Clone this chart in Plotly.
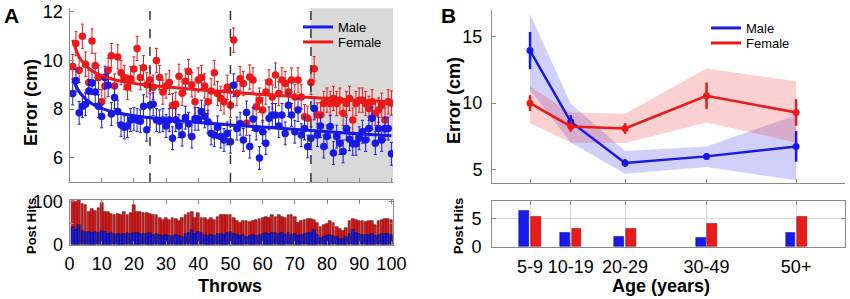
import plotly.graph_objects as go

W, H = 850, 299
def fx(px): return px / W
def fy(px): return 1 - px / H

FONT = "Arial, Liberation Sans, sans-serif"
RED = "rgb(235,25,25)"
BLUE = "rgb(25,25,230)"
AXC = "#8a8a8a"

# ---------------- Panel A data ----------------
throws = list(range(1, 101))
female_error = [9.75, 10.7, 9.6, 11.0, 9.85, 9.1, 10.8, 9.8, 9.3, 8.3,
                8.95, 9.6, 10.2, 8.95, 10.15, 9.5, 9.3, 8.9, 9.25, 9.65,
                10.5, 9.3, 9.7, 9.0, 9.2, 8.9, 10.0, 9.3, 8.7, 8.95,
                9.1, 8.15, 8.2, 9.35, 8.65, 9.15, 9.55, 9.0, 8.3, 9.2,
                9.3, 8.95, 8.3, 8.75, 9.5, 8.64, 8.44, 8.3, 8.9, 8.16,
                10.84, 8.64, 9.25, 9.05, 7.42, 9.32, 9.2, 8.1, 8.37, 7.96,
                8.7, 9.12, 8.5, 9.4, 8.64, 9.2, 9.05, 8.7, 9.2, 8.5,
                9.2, 8.5, 7.69, 7.62, 9.1, 9.66, 7.76, 7.76, 8.23, 8.37,
                8.23, 8.44, 8.23, 8.37, 7.83, 8.23, 8.44, 7.55, 8.23, 8.37,
                8.37, 8.23, 8.03, 8.3, 7.83, 7.96, 8.16, 7.55, 8.3, 8.25]
male_error = [8.64, 9.18, 7.85, 8.12, 8.2, 8.75, 9.07, 8.7, 8.12, 7.7,
              9.3, 8.98, 7.8, 8.48, 7.9, 7.35, 7.25, 7.3, 7.55, 7.6,
              7.55, 7.5, 8.12, 7.15, 8.16, 8.2, 7.55, 7.5, 7.55, 7.3,
              7.55, 6.8, 7.55, 7.3, 6.95, 7.65, 7.4, 6.87, 7.6, 7.6,
              7.9, 7.7, 7.48, 7.0, 6.93, 7.25, 6.87, 6.73, 7.0, 6.66,
              8.98, 7.2, 7.4, 6.73, 7.86, 6.46, 7.59, 7.2, 5.99, 7.07,
              6.6, 7.62, 7.76, 7.76, 7.3, 7.76, 7.0, 8.16, 7.76, 7.07,
              7.96, 6.93, 7.2, 6.46, 6.8, 8.03, 6.93, 7.3, 6.46, 6.87,
              7.28, 6.19, 6.87, 6.6, 6.26, 7.2, 6.76, 6.57, 6.57, 6.8,
              7.07, 6.73, 7.2, 7.62, 6.6, 7.2, 6.73, 7.2, 7.2, 6.16]
female_sem = 0.5
male_sem = 0.47

fit_throws = [1, 2, 3, 4, 5, 7, 9, 12, 16, 20, 25, 32, 40, 50, 60, 75, 88, 100]
female_fit = [10.85, 10.45, 10.15, 9.95, 9.8, 9.58, 9.43, 9.28, 9.15, 9.06, 8.98, 8.89, 8.8, 8.7, 8.6, 8.48, 8.38, 8.3]
male_fit = [9.25, 8.95, 8.72, 8.55, 8.42, 8.22, 8.08, 7.94, 7.82, 7.73, 7.64, 7.54, 7.45, 7.35, 7.26, 7.12, 7.0, 6.9]

female_hits = [101, 100, 103, 94, 92, 77, 83, 79, 85, 96,
               75, 77, 71, 69, 71, 69, 75, 69, 73, 92,
               75, 75, 73, 73, 71, 69, 69, 62, 58, 63,
               58, 62, 60, 54, 63, 69, 73, 75, 62, 73,
               63, 62, 58, 63, 58, 65, 68, 69, 68, 68,
               62, 54, 50, 55, 54, 52, 55, 58, 60, 62,
               65, 62, 68, 65, 69, 65, 62, 68, 68, 65,
               50, 54, 58, 60, 60, 58, 50, 40, 45, 48,
               54, 50, 40, 37, 32, 38, 55, 60, 58, 54,
               54, 52, 54, 55, 46, 54, 58, 60, 60, 58]
male_hits = [40, 33, 45, 32, 30, 30, 28, 30, 27, 32,
             30, 25, 27, 24, 25, 22, 24, 26, 24, 28,
             26, 25, 24, 25, 27, 22, 24, 22, 20, 22,
             20, 21, 22, 20, 18, 24, 28, 35, 24, 30,
             26, 22, 20, 22, 20, 24, 24, 22, 26, 30,
             24, 22, 20, 22, 18, 20, 22, 20, 22, 24,
             26, 24, 28, 26, 24, 28, 22, 26, 22, 24,
             20, 22, 24, 26, 28, 33, 22, 16, 18, 20,
             22, 20, 18, 12, 14, 18, 24, 33, 26, 24,
             22, 22, 22, 24, 20, 22, 24, 24, 24, 22]
block_edges = [25, 50, 75]
test_block_start = 75
throw_ticks = list(range(0, 101, 10))

# ---------------- Panel B data ----------------
age_groups = ["5-9", "10-19", "20-29", "30-49", "50+"]
age_mid = [7, 14.5, 24.5, 39.5, 56]
male_mean = [13.95, 8.6, 5.5, 6.0, 6.75]
male_sem_b = [1.4, 0.5, 0.3, 0.25, 1.15]
male_lo = [11.0, 7.05, 4.7, 5.2, 4.2]
male_hi = [16.7, 9.95, 6.4, 6.75, 9.1]
female_mean = [10.0, 8.25, 8.1, 10.55, 9.3]
female_sem_b = [0.6, 0.4, 0.4, 1.0, 1.0]
female_lo = [8.5, 7.05, 7.0, 8.55, 7.05]
female_hi = [11.25, 9.3, 9.2, 12.6, 11.65]
male_hits_age = [6.35, 2.5, 1.75, 1.65, 2.5]
female_hits_age = [5.3, 3.2, 3.2, 4.0, 5.3]

fig = go.Figure()

# Panel A scatter
fig.add_trace(go.Scatter(x=throws, y=female_error, mode="markers", xaxis="x", yaxis="y",
                         marker=dict(color=RED, size=7.5),
                         error_y=dict(type="constant", value=female_sem, color=RED, thickness=1, width=1.5),
                         showlegend=False))
fig.add_trace(go.Scatter(x=throws, y=male_error, mode="markers", xaxis="x", yaxis="y",
                         marker=dict(color=BLUE, size=7.5),
                         error_y=dict(type="constant", value=male_sem, color=BLUE, thickness=1, width=1.5),
                         showlegend=False))
fig.add_trace(go.Scatter(x=fit_throws, y=male_fit, mode="lines", name="Male", xaxis="x", yaxis="y",
                         line=dict(color=BLUE, width=3, shape="spline"), legend="legend"))
fig.add_trace(go.Scatter(x=fit_throws, y=female_fit, mode="lines", name="Female", xaxis="x", yaxis="y",
                         line=dict(color=RED, width=3, shape="spline"), legend="legend2"))

# Panel A bars
fig.add_trace(go.Bar(x=throws, y=female_hits, xaxis="x2", yaxis="y2", width=0.85,
                     marker=dict(color="rgb(215,30,30)", line=dict(color="rgb(110,0,0)", width=0.6)),
                     showlegend=False))
fig.add_trace(go.Bar(x=throws, y=male_hits, xaxis="x2", yaxis="y2", width=0.85,
                     marker=dict(color="rgb(30,30,215)", line=dict(color="rgb(0,0,100)", width=0.6)),
                     showlegend=False))

# Panel B bands
fig.add_trace(go.Scatter(x=age_mid + age_mid[::-1], y=male_hi + male_lo[::-1], fill="toself",
                         fillcolor="rgba(40,40,230,0.22)", line=dict(width=0), mode="lines",
                         xaxis="x3", yaxis="y3", showlegend=False, hoverinfo="skip"))
fig.add_trace(go.Scatter(x=age_mid + age_mid[::-1], y=female_hi + female_lo[::-1], fill="toself",
                         fillcolor="rgba(235,40,40,0.22)", line=dict(width=0), mode="lines",
                         xaxis="x3", yaxis="y3", showlegend=False, hoverinfo="skip"))
fig.add_trace(go.Scatter(x=age_mid, y=male_mean, mode="lines+markers", xaxis="x3", yaxis="y3",
                         line=dict(color=BLUE, width=2.5), marker=dict(color=BLUE, size=7),
                         error_y=dict(type="data", array=male_sem_b, color=BLUE, thickness=2.5, width=0),
                         showlegend=False))
fig.add_trace(go.Scatter(x=age_mid, y=female_mean, mode="lines+markers", xaxis="x3", yaxis="y3",
                         line=dict(color=RED, width=2.5), marker=dict(color=RED, size=7),
                         error_y=dict(type="data", array=female_sem_b, color=RED, thickness=2.5, width=0),
                         showlegend=False))
fig.add_trace(go.Scatter(x=[None], y=[None], mode="lines", name="Male", xaxis="x3", yaxis="y3",
                         line=dict(color=BLUE, width=3), legend="legend3"))
fig.add_trace(go.Scatter(x=[None], y=[None], mode="lines", name="Female", xaxis="x3", yaxis="y3",
                         line=dict(color=RED, width=3), legend="legend4"))

# Panel B bars
fig.add_trace(go.Bar(x=age_mid, y=male_hits_age, xaxis="x4", yaxis="y4", width=1.8, offset=-1.95,
                     marker=dict(color="rgb(25,25,235)", line=dict(color="rgb(0,0,120)", width=0.5)),
                     showlegend=False))
fig.add_trace(go.Bar(x=age_mid, y=female_hits_age, xaxis="x4", yaxis="y4", width=1.8, offset=0.15,
                     marker=dict(color="rgb(235,25,25)", line=dict(color="rgb(120,0,0)", width=0.5)),
                     showlegend=False))

tickfont = dict(family=FONT, size=18, color="black")
common = dict(showline=True, linecolor=AXC, linewidth=1, ticks="inside", tickcolor=AXC,
              ticklen=4, zeroline=False, showgrid=False, tickfont=tickfont, automargin=False)

xA = [fx(69.5), fx(393)]
xB = [fx(492), fx(845)]

shapes = [dict(type="rect", xref="x", yref="y domain", x0=test_block_start, x1=100.5, y0=0, y1=1,
               fillcolor="rgb(217,217,217)", line=dict(width=0), layer="below")]
for e in block_edges:
    shapes.append(dict(type="line", xref="x", yref="y domain", x0=e, x1=e, y0=0, y1=1,
                       line=dict(color="#333333", width=1.5, dash="dash")))

def ann(text, x, y, size, bold=True, angle=0):
    return dict(text=f"<b>{text}</b>" if bold else text, x=fx(x), y=fy(y), xref="paper", yref="paper",
                showarrow=False, textangle=angle, font=dict(family=FONT, size=size, color="black"),
                xanchor="center", yanchor="middle")

annotations = [
    ann("A", 11, 16, 21),
    ann("B", 448, 16, 21),
    ann("Error (cm)", 31, 103, 18, angle=-90),
    ann("Post Hits", 31, 226, 13, angle=-90),
    ann("Throws", 230, 286, 18),
    ann("Error (cm)", 454, 100, 18, angle=-90),
    ann("Post Hits", 458, 226, 13, angle=-90),
    ann("Age (years)", 661, 286, 18),
]

def leg(x, y):
    return dict(x=fx(x), y=fy(y), xanchor="left", yanchor="top", bgcolor="rgba(0,0,0,0)",
                font=dict(family=FONT, size=13, color="black"), itemwidth=30, tracegroupgap=0)

fig.update_layout(
    template="none",
    width=W, height=H, autosize=False,
    margin=dict(l=0, r=0, t=0, b=0, pad=0),
    paper_bgcolor="white", plot_bgcolor="white",
    barmode="overlay", bargap=0,
    font=dict(family=FONT, color="black"),
    xaxis=dict(domain=xA, range=[0, 100.5], tickvals=throw_ticks, showticklabels=False, anchor="y", **common),
    yaxis=dict(domain=[fy(182), fy(8.3)], range=[5, 12.15], tickvals=[6, 8, 10, 12], anchor="x",
               ticklabelstandoff=2, **common),
    xaxis2=dict(domain=xA, range=[0, 100.5], tickvals=throw_ticks, anchor="y2", mirror="ticks",
                ticklabelstandoff=3, **common),
    yaxis2=dict(domain=[fy(244.5), fy(200)], range=[0, 104], tickvals=[0, 50, 100],
                ticktext=["0", "", "100"], anchor="x2", mirror="ticks", ticklabelstandoff=2, **common),
    xaxis3=dict(domain=xB, range=[0, 65], tickvals=age_mid, showticklabels=False, anchor="y3", **common),
    yaxis3=dict(domain=[fy(183), fy(10)], range=[4, 17], tickvals=[5, 10, 15], anchor="x3",
                ticklabelstandoff=5, **common),
    xaxis4=dict(domain=xB, range=[0, 65], tickvals=age_mid, ticktext=age_groups, anchor="y4",
                mirror="ticks", ticklabelstandoff=4,
                **{**common, "showgrid": True}, gridcolor="#d9d9d9"),
    yaxis4=dict(domain=[fy(246.7), fy(200.7)], range=[0, 8.1], tickvals=[0, 5], anchor="x4",
                mirror="ticks", ticklabelstandoff=6, **{**common, "showgrid": True}, gridcolor="#d9d9d9"),
    legend=leg(298, 12),
    legend2=leg(298, 27),
    legend3=leg(706, 13),
    legend4=leg(706, 28),
    shapes=shapes,
    annotations=annotations,
)

fig.write_html("out.html", config={"displayModeBar": False},
               post_script="document.body.style.margin='0px';document.body.style.padding='0px';")
